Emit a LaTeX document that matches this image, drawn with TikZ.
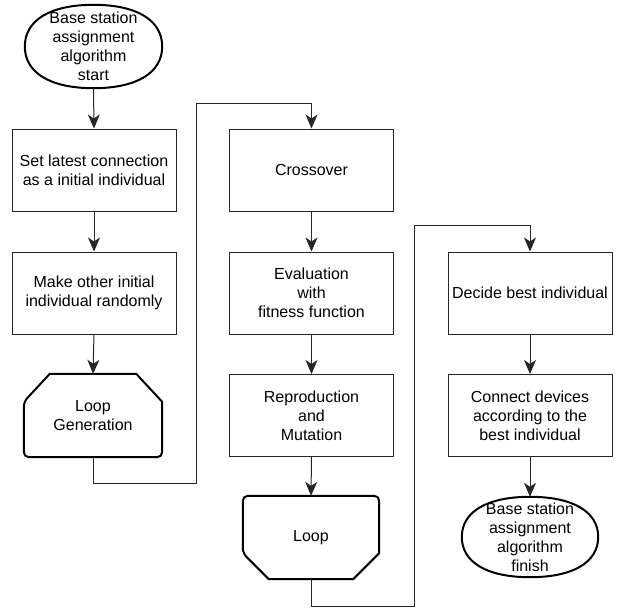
\documentclass[tikz,border=0pt]{standalone}
\usepackage{fontspec}
\setmainfont{Liberation Sans}
\usepackage{tikz}
\usetikzlibrary{arrows.meta}
\usetikzlibrary{calc}

\tikzset{
  box/.style={rectangle, draw=black!85, line width=1pt, minimum width=164pt, minimum height=82pt, inner sep=0pt, align=center},
  shapetext/.style={rectangle, minimum width=137pt, minimum height=83pt, inner sep=0pt, align=center},
  thickline/.style={draw=black, line width=2pt},
  flow/.style={draw=black!85, line width=1pt, -{Stealth[length=14pt,width=12pt,inset=4pt]}},
  every node/.style={font=\fontsize{16}{19}\selectfont}
}

% a fat ellipse through the four anchors of a node
\newcommand{\fatoval}[1]{%
  \draw[thickline] (#1.east) .. controls ($(#1.east)!0.63!(#1.north east)$) and ($(#1.north)!0.63!(#1.north east)$) .. (#1.north)
    .. controls ($(#1.north)!0.63!(#1.north west)$) and ($(#1.west)!0.63!(#1.north west)$) .. (#1.west)
    .. controls ($(#1.west)!0.63!(#1.south west)$) and ($(#1.south)!0.63!(#1.south west)$) .. (#1.south)
    .. controls ($(#1.south)!0.63!(#1.south east)$) and ($(#1.east)!0.63!(#1.south east)$) .. (#1.east) -- cycle;}

\begin{document}
\begin{tikzpicture}[x=1pt, y=-1pt]
\useasboundingbox (0,0) rectangle (619,608);

% First, define nodes
\node[shapetext] (start) at (93.5,46.5) {Base station\\assignment\\algorithm\\start};
\node[box] (setlatest) at (94,170) {Set latest connection\\as a initial individual};
\node[box] (makeother) at (94,293) {Make other initial\\individual randomly};
\node[shapetext, minimum width=138pt] (loopgen) at (93,415.5) {Loop\\Generation};

\node[box] (cross) at (311.5,170) {Crossover};
\node[box] (eval) at (311.5,293) {Evaluation\\with\\fitness function};
\node[box] (repro) at (311.5,415.5) {Reproduction\\and\\Mutation};
\node[shapetext, minimum width=136pt] (loopend) at (311,537.5) {Loop};

\node[box] (decide) at (530,293) {Decide best individual};
\node[box] (connect) at (530,415.5) {Connect devices\\according to the\\best individual};
\node[shapetext, minimum width=136pt, minimum height=80pt] (finish) at (530,537) {Base station\\assignment\\algorithm\\finish};

% Outlines of the terminals and the loop limits
\fatoval{start}
\fatoval{finish}

\draw[thickline, line join=round] ($(loopgen.north west)+(0,28)$) -- ($(loopgen.north west)+(26,0)$)
  -- ($(loopgen.north east)+(-26,0)$) -- ($(loopgen.north east)+(0,28)$)
  [rounded corners=5pt] -- (loopgen.south east) -- (loopgen.south west) -- cycle;

\draw[thickline, line join=round] ($(loopend.south west)+(0,-26)$) -- ($(loopend.south west)+(26,0)$)
  -- ($(loopend.south east)+(-26,0)$) -- ($(loopend.south east)+(0,-26)$)
  [rounded corners=5pt] -- (loopend.north east) -- (loopend.north west) -- cycle;

% Turning points of the long connectors
\coordinate (j1) at (196,483);
\coordinate (j2) at (196,103);
\coordinate (j3) at (414,606);
\coordinate (j4) at (414,225);

% Then the connectors
\draw[flow] (start.south) -- (setlatest.north);
\draw[flow] (setlatest.south) -- (makeother.north);
\draw[flow] (makeother.south) -- (loopgen.north);
\draw[flow] (loopgen.south) |- (j1) -- (j2) -| (cross.north);
\draw[flow] (cross.south) -- (eval.north);
\draw[flow] (eval.south) -- (repro.north);
\draw[flow] (repro.south) -- (loopend.north);
\draw[flow] (loopend.south) |- (j3) -- (j4) -| (decide.north);
\draw[flow] (decide.south) -- (connect.north);
\draw[flow] (connect.south) -- (finish.north);
\end{tikzpicture}
\end{document}
